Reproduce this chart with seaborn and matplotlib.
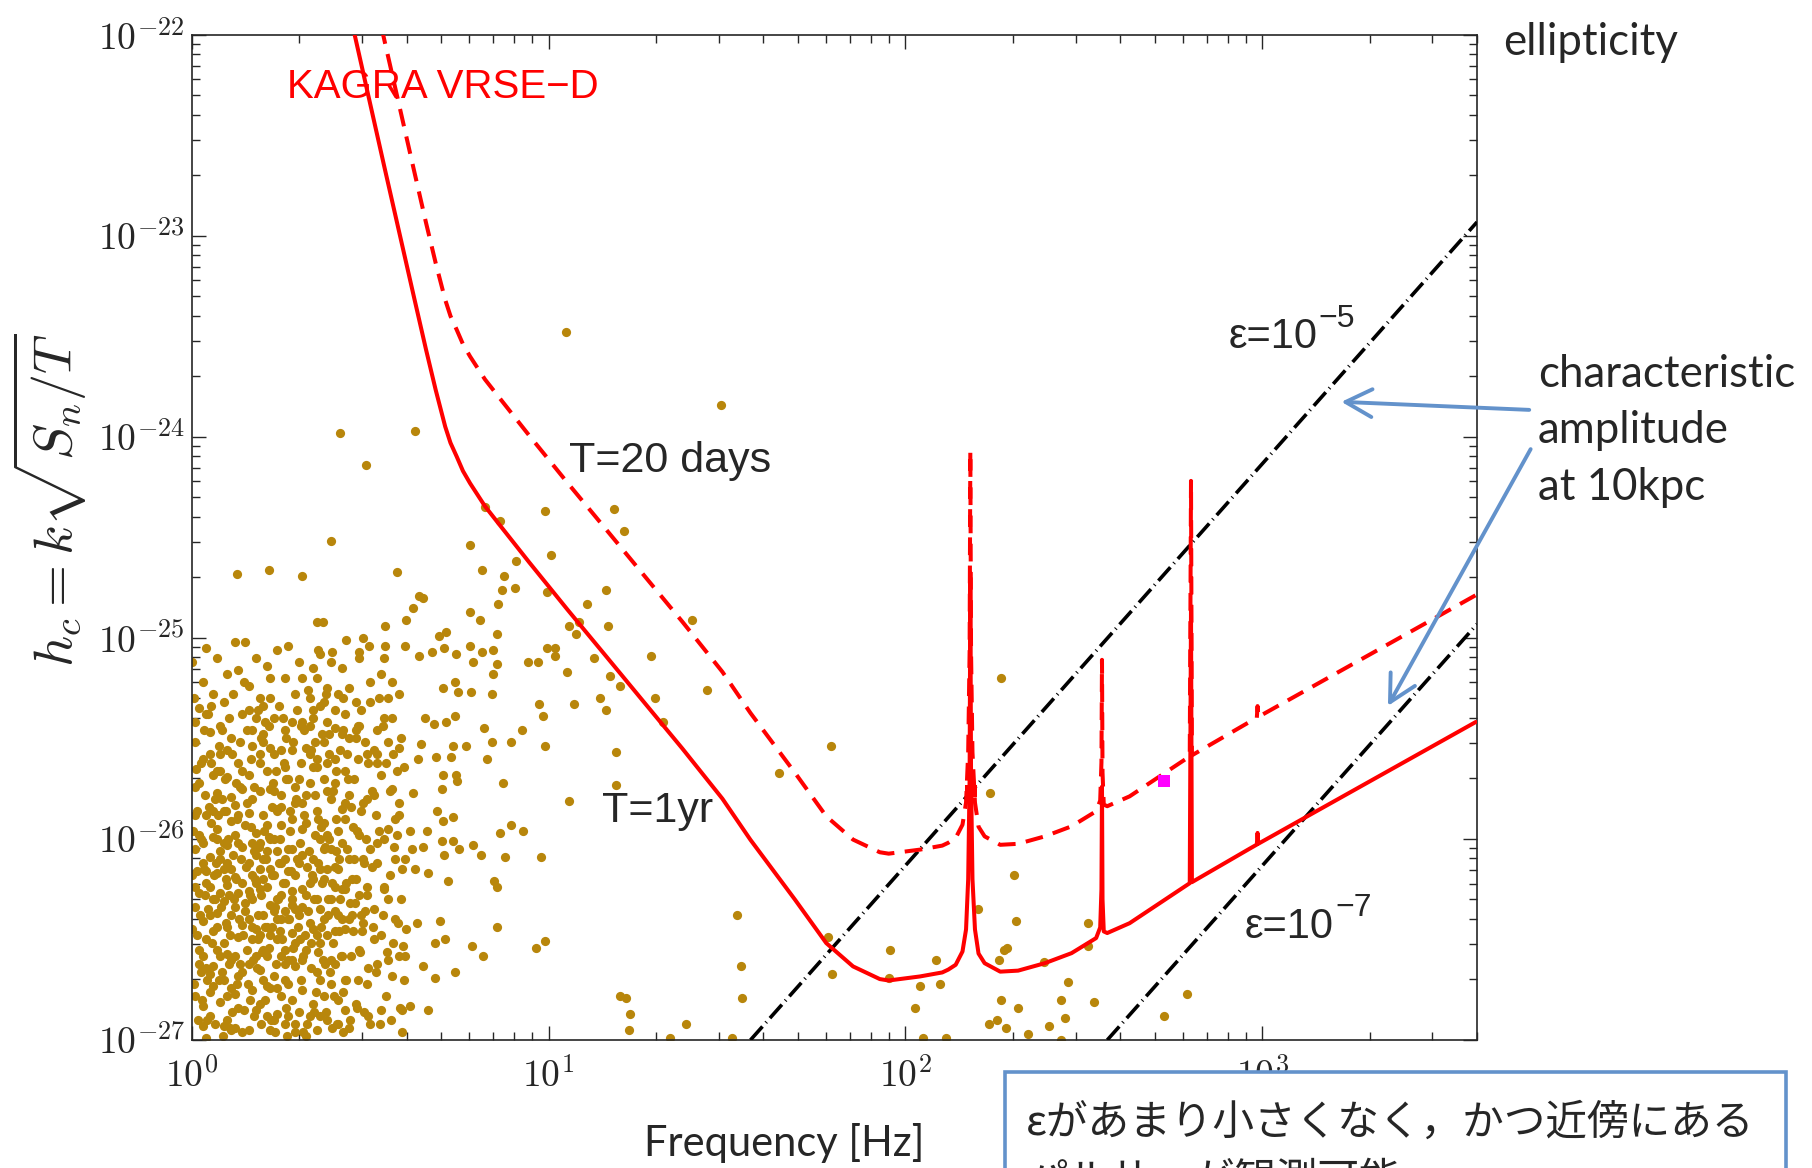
import numpy as np
import pandas as pd
import matplotlib
matplotlib.use('Agg')
import matplotlib.pyplot as plt
from matplotlib.ticker import FuncFormatter, LogLocator, NullFormatter, FixedLocator
from matplotlib.patches import Rectangle, FancyArrowPatch
import seaborn as sns

# ---- data ----
# KAGRA VRSE-D sensitivity for T=1yr, as log10(f/Hz), log10(hc)
sens_logf = [0.4564, 0.5400, 0.6245, 0.6567, 0.6836, 0.6950, 0.7102, 0.7250, 0.7424, 0.7600,
             0.7799, 0.8216, 0.8636, 0.9460, 1.0532, 1.1605, 1.2675, 1.3747, 1.4872, 1.5656,
             1.6906, 1.7782, 1.8533, 1.9283, 1.9532, 2.0406, 2.1033, 2.1200, 2.1409, 2.1600,
             2.1700, 2.1760, 2.1800, 2.1820, 2.1840, 2.1880, 2.1950, 2.2050, 2.2221, 2.2658,
             2.3159, 2.3907, 2.4657, 2.5346, 2.5460, 2.5495, 2.5510, 2.5525, 2.5560, 2.5657,
             2.6284, 2.7970, 2.8005, 2.8030, 2.9633, 2.9850, 2.9870, 2.9890, 3.5990]
sens_logh = [-22.000, -22.660, -23.319, -23.568, -23.767, -23.845, -23.949, -24.030, -24.098, -24.170,
             -24.231, -24.345, -24.440, -24.625, -24.860, -25.090, -25.320, -25.550, -25.800, -26.004,
             -26.302, -26.518, -26.634, -26.697, -26.704, -26.684, -26.664, -26.650, -26.626, -26.560,
             -26.450, -26.200, -25.700, -24.700, -25.700, -26.200, -26.450, -26.570, -26.618, -26.660,
             -26.655, -26.618, -26.568, -26.493, -26.440, -26.250, -25.740, -26.300, -26.460, -26.468,
             -26.419, -26.220, -24.850, -26.215, -26.050, -26.028, -25.970, -26.024, -25.418]
T_year_days = 365.25
T_short_days = 20.0

# characteristic amplitude at 10kpc for two ellipticities (line end points)
eps5_freq = [36.8, 4000.0]
eps5_h = [1.0e-27, 1.17e-23]
eps7_freq = [368.0, 4000.0]
eps7_h = [1.0e-27, 1.17e-25]

x_ticks = [1, 10, 100, 1000]
y_ticks = [1e-27, 1e-26, 1e-25, 1e-24, 1e-23, 1e-22]

# known pulsars: (log10 f, log10 hc)
cloud_a = [(0.01,-26.05),(0.03,-26.41),(0.02,-25.72),(0.05,-26.88),(0.04,-26.22),(0.07,-25.95),(0.06,-26.63),(0.09,-26.31),(0.08,-25.58),(0.11,-26.74),
           (0.10,-26.12),(0.13,-26.49),(0.12,-25.83),(0.14,-26.96),(0.02,-26.55),(0.05,-25.47),(0.03,-26.93),(0.07,-26.17),(0.09,-26.70),(0.11,-25.91),
           (0.13,-26.27),(0.01,-26.34),(0.04,-25.88),(0.06,-26.46),(0.08,-26.81),(0.10,-25.69),(0.12,-26.58),(0.14,-26.04),(0.03,-26.12),(0.05,-26.67),
           (0.07,-25.77),(0.09,-26.02),(0.11,-26.38),(0.13,-25.62),(0.01,-26.78),(0.04,-26.50),(0.06,-25.99),(0.08,-26.27),(0.10,-26.90),(0.12,-26.19),
           (0.14,-25.75),(0.02,-26.27),(0.05,-26.09),(0.07,-26.55),(0.09,-25.86),(0.11,-26.60),(0.13,-26.84),(0.15,-26.36),(0.03,-25.60),(0.06,-26.73),
           (0.08,-26.10),(0.10,-26.44),(0.12,-25.98),(0.14,-26.66),(0.01,-25.88),(0.04,-26.99),(0.06,-26.30),(0.09,-26.52),(0.11,-26.15),(0.13,-26.02),
           (0.02,-26.62),(0.05,-26.38),(0.08,-25.66),(0.10,-26.23),(0.12,-26.77),(0.14,-26.43),(0.03,-26.83),(0.07,-26.37),(0.09,-26.93),(0.11,-25.79),
           (0.00,-26.45),(0.02,-25.98),(0.04,-26.16),(0.06,-25.86),(0.08,-26.58),(0.10,-26.03),(0.12,-26.34),(0.14,-26.22),(0.01,-25.52),(0.03,-26.02),
           (0.05,-26.76),(0.07,-26.00),(0.09,-26.15),(0.11,-26.95),(0.13,-26.68),(0.15,-25.93),(0.00,-26.18),(0.04,-26.64),(0.06,-25.68),(0.10,-26.57)]
cloud_b = [(0.16,-26.12),(0.18,-26.45),(0.17,-25.80),(0.20,-26.70),(0.19,-26.02),(0.22,-26.33),(0.21,-25.66),(0.24,-26.87),(0.23,-26.18),(0.26,-26.55),
           (0.25,-25.93),(0.28,-26.26),(0.27,-26.72),(0.29,-25.74),(0.16,-26.62),(0.18,-25.97),(0.20,-26.38),(0.22,-26.95),(0.24,-25.85),(0.26,-26.10),
           (0.28,-26.47),(0.17,-26.30),(0.19,-26.82),(0.21,-26.06),(0.23,-25.58),(0.25,-26.40),(0.27,-26.05),(0.29,-26.63),(0.16,-25.87),(0.18,-26.22),
           (0.20,-25.48),(0.22,-26.15),(0.24,-26.50),(0.26,-26.92),(0.28,-25.90),(0.17,-26.75),(0.19,-26.25),(0.21,-26.58),(0.23,-26.00),(0.25,-26.78),
           (0.27,-25.70),(0.29,-26.18),(0.16,-26.40),(0.18,-26.85),(0.20,-26.10),(0.22,-25.75),(0.24,-26.30),(0.26,-26.36),(0.28,-26.80),(0.17,-26.02),
           (0.19,-25.62),(0.21,-26.44),(0.23,-26.68),(0.25,-26.12),(0.27,-26.40),(0.29,-26.96),(0.16,-26.95),(0.18,-26.58),(0.20,-25.88),(0.22,-26.48),
           (0.24,-26.06),(0.26,-25.64),(0.28,-26.33),(0.17,-25.54),(0.19,-26.48),(0.21,-26.88),(0.23,-26.36),(0.25,-25.84),(0.27,-26.60),(0.29,-26.35),
           (0.16,-26.26),(0.18,-26.08),(0.20,-26.55),(0.22,-26.00),(0.24,-26.74),(0.26,-26.22),(0.28,-26.60),(0.17,-26.50),(0.19,-26.15),(0.21,-25.93),
           (0.23,-26.90),(0.25,-26.58),(0.27,-26.16),(0.29,-25.82),(0.18,-25.40),(0.22,-25.55),(0.26,-25.46),(0.20,-26.20),(0.24,-26.40),(0.28,-26.05),
           (0.16,-25.68),(0.21,-26.73),(0.25,-26.28),(0.27,-26.88),(0.19,-26.65),(0.23,-25.76),(0.29,-26.52),(0.17,-26.18),(0.26,-26.70),(0.20,-25.34)]
cloud_c = [(0.31,-26.08),(0.33,-26.42),(0.32,-25.78),(0.35,-26.66),(0.34,-26.20),(0.37,-25.92),(0.36,-26.52),(0.39,-26.30),(0.38,-25.62),(0.41,-26.80),
           (0.40,-26.14),(0.43,-26.45),(0.42,-25.85),(0.44,-26.94),(0.31,-26.60),(0.33,-25.58),(0.35,-26.95),(0.37,-26.20),(0.39,-26.72),(0.41,-25.96),
           (0.43,-26.25),(0.30,-26.38),(0.32,-25.92),(0.34,-26.82),(0.36,-26.00),(0.38,-26.48),(0.40,-25.72),(0.42,-26.58),(0.44,-26.10),(0.31,-25.42),
           (0.33,-26.22),(0.35,-25.86),(0.37,-26.78),(0.39,-26.05),(0.41,-26.38),(0.43,-25.66),(0.30,-26.86),(0.32,-26.28),(0.34,-25.64),(0.36,-26.35),
           (0.38,-26.90),(0.40,-26.24),(0.42,-26.02),(0.44,-25.78),(0.31,-26.25),(0.33,-26.88),(0.35,-26.30),(0.37,-25.52),(0.39,-26.60),(0.41,-26.15),
           (0.43,-26.70),(0.30,-25.70),(0.32,-26.55),(0.34,-26.10),(0.36,-25.34),(0.38,-26.15),(0.40,-26.62),(0.42,-25.48),(0.44,-26.40),(0.33,-25.30),
           (0.35,-26.48),(0.37,-26.05),(0.39,-25.80),(0.41,-26.92),(0.31,-26.75),(0.34,-26.45),(0.36,-26.70),(0.38,-25.98),(0.40,-26.46),(0.42,-26.25),
           (0.30,-26.12),(0.32,-26.98),(0.35,-25.20),(0.38,-25.42),(0.43,-26.85),(0.34,-25.15),(0.37,-26.40),(0.40,-25.60),(0.31,-25.95),(0.36,-26.15)]
cloud_d = [(0.46,-26.20),(0.48,-25.82),(0.47,-26.55),(0.50,-26.05),(0.49,-26.72),(0.52,-25.62),(0.51,-26.35),(0.54,-26.00),(0.53,-26.85),(0.56,-25.75),
           (0.55,-26.30),(0.58,-26.58),(0.57,-25.90),(0.59,-26.15),(0.46,-25.50),(0.48,-26.42),(0.50,-26.92),(0.52,-26.12),(0.54,-25.40),(0.56,-26.68),
           (0.58,-25.55),(0.47,-25.98),(0.49,-26.28),(0.51,-25.78),(0.53,-26.48),(0.55,-25.95),(0.57,-26.40),(0.59,-26.85),(0.46,-26.82),(0.50,-25.32),
           (0.52,-26.62),(0.54,-26.25),(0.56,-25.22),(0.48,-26.10),(0.53,-25.68),(0.57,-26.10),(0.45,-26.38),(0.51,-26.50),(0.55,-26.60),(0.58,-25.88),
           (0.49,-25.58),(0.53,-25.18),(0.47,-25.10),(0.60,-26.45),(0.44,-25.25)]
cloud_e = [(0.015,-26.48),(0.035,-26.15),(0.055,-25.92),(0.075,-26.70),(0.095,-26.42),(0.115,-26.08),(0.135,-25.74),(0.155,-26.55),(0.175,-26.88),(0.195,-26.28),
           (0.215,-25.99),(0.235,-26.62),(0.245,-26.12),(0.005,-26.72),(0.025,-26.00),(0.045,-26.35),(0.065,-26.92),(0.085,-25.80),(0.105,-26.62),(0.125,-26.20),
           (0.145,-26.85),(0.165,-25.94),(0.185,-26.38),(0.205,-26.80),(0.225,-26.44),(0.012,-25.65),(0.032,-26.58),(0.052,-26.24),(0.072,-26.44),(0.092,-25.70),
           (0.112,-26.86),(0.132,-26.40),(0.152,-26.14),(0.172,-26.60),(0.192,-25.76),(0.212,-26.24),(0.232,-26.96),(0.248,-26.46),(0.018,-26.90),(0.038,-25.78),
           (0.058,-26.52),(0.078,-26.06),(0.098,-26.78),(0.118,-26.30),(0.138,-26.10),(0.158,-26.72),(0.178,-26.20),(0.198,-26.56),(0.218,-26.74),(0.238,-25.86),
           (0.008,-26.24),(0.028,-26.80),(0.048,-25.84),(0.068,-26.12),(0.088,-26.98),(0.108,-26.48),(0.128,-25.90),(0.148,-26.32),(0.168,-26.44),(0.188,-26.04),
           (0.208,-26.10),(0.228,-25.72),(0.242,-26.30),(0.022,-26.38),(0.042,-26.70),(0.062,-26.18),(0.082,-26.34),(0.102,-26.00),(0.122,-26.94),(0.142,-25.66),
           (0.162,-26.28),(0.182,-26.64),(0.202,-25.96),(0.222,-26.90),(0.002,-25.96),(0.014,-26.16),(0.044,-26.90),(0.074,-25.88),(0.104,-26.28),(0.134,-26.62),
           (0.164,-26.80),(0.194,-26.92),(0.224,-26.18),(0.054,-25.62),(0.084,-26.66),(0.114,-25.58),(0.144,-26.48),(0.174,-26.06),(0.204,-26.44),(0.234,-26.34),
           (0.026,-26.66),(0.066,-26.30),(0.096,-26.20),(0.126,-26.72),(0.156,-25.82),(0.186,-26.50),(0.216,-26.54),(0.246,-26.00),(0.036,-26.28),(0.106,-26.94)]
cloud_f = [(0.255,-26.22),(0.265,-26.84),(0.275,-25.96),(0.285,-26.54),(0.295,-26.10),(0.305,-26.70),(0.315,-25.88),(0.325,-26.36),(0.335,-26.64),(0.345,-25.98),
           (0.355,-26.56),(0.365,-26.22),(0.375,-26.86),(0.385,-26.00),(0.395,-26.52),(0.405,-25.90),(0.415,-26.30),(0.425,-26.76),(0.435,-26.05),(0.445,-26.58),
           (0.455,-26.10),(0.465,-26.70),(0.475,-25.86),(0.485,-26.36),(0.495,-26.64),(0.258,-25.62),(0.272,-26.40),(0.288,-26.92),(0.302,-26.02),(0.318,-26.48),
           (0.332,-25.72),(0.348,-26.76),(0.362,-26.44),(0.378,-25.76),(0.392,-26.22),(0.408,-26.92),(0.422,-26.40),(0.438,-25.70),(0.452,-26.46),(0.468,-26.28),
           (0.482,-26.86),(0.262,-26.62),(0.278,-26.16),(0.292,-25.80),(0.308,-26.34),(0.322,-26.92),(0.338,-26.18),(0.352,-25.64),(0.368,-26.60),(0.382,-26.30),
           (0.398,-26.78),(0.412,-26.10),(0.428,-25.82),(0.442,-26.90),(0.458,-26.32),(0.472,-26.56),(0.488,-26.00),(0.268,-26.98),(0.298,-26.44),(0.328,-26.06),
           (0.358,-26.88),(0.388,-26.66),(0.418,-26.58),(0.448,-26.20),(0.478,-26.46),(0.252,-26.50),(0.282,-26.30),(0.312,-26.58),(0.342,-26.30),(0.372,-26.04),
           (0.402,-26.36),(0.432,-26.22),(0.462,-25.96),(0.492,-26.24),(0.265,-25.50),(0.305,-25.44),(0.345,-25.52),(0.385,-25.58),(0.425,-25.46),(0.465,-25.60)]
cloud_g = [(0.005,-25.30),(0.025,-25.62),(0.045,-25.38),(0.065,-25.80),(0.085,-25.46),(0.105,-25.40),(0.125,-25.72),(0.145,-25.22),(0.165,-25.60),(0.185,-25.36),
           (0.205,-25.42),(0.225,-25.84),(0.245,-25.34),(0.265,-25.70),(0.285,-25.52),(0.305,-25.62),(0.325,-25.26),(0.345,-25.78),(0.365,-25.48),(0.385,-25.48),
           (0.405,-25.66),(0.425,-25.30),(0.445,-25.84),(0.465,-25.44),(0.485,-25.52),(0.505,-25.76),(0.525,-25.30),(0.545,-25.62),(0.565,-25.58),(0.585,-25.50),
           (0.015,-25.86),(0.035,-25.46),(0.055,-25.34),(0.075,-25.54),(0.095,-25.86),(0.115,-25.28),(0.135,-25.52),(0.155,-25.46),(0.175,-25.74),(0.195,-25.50),
           (0.215,-25.44),(0.235,-25.66),(0.255,-25.40),(0.275,-25.86),(0.295,-25.36),(0.315,-25.46),(0.335,-25.56),(0.355,-25.90),(0.375,-25.28),(0.395,-25.76),
           (0.415,-25.56),(0.435,-25.58),(0.455,-25.70),(0.475,-25.36),(0.495,-25.62),(0.515,-25.88),(0.535,-25.44),(0.555,-25.76),(0.575,-25.66),(0.595,-25.64),
           (0.010,-25.74),(0.040,-25.38),(0.070,-25.66),(0.100,-25.56),(0.130,-25.88),(0.160,-25.36),(0.190,-25.58),(0.220,-25.20),(0.250,-25.78),(0.280,-25.56),
           (0.310,-25.82),(0.340,-25.40),(0.370,-25.70),(0.400,-25.36),(0.430,-25.90),(0.460,-25.46),(0.490,-25.80),(0.520,-25.58),(0.550,-25.52),(0.580,-25.82)]
cloud_h = [(0.505,-26.14),(0.515,-26.66),(0.525,-25.96),(0.535,-26.38),(0.545,-26.78),(0.555,-26.18),(0.565,-26.52),(0.575,-25.98),(0.585,-26.30),(0.595,-26.70),
           (0.508,-26.44),(0.518,-26.02),(0.528,-26.92),(0.538,-26.24),(0.548,-26.56),(0.558,-26.90),(0.568,-26.04),(0.578,-26.42),(0.588,-26.96),(0.598,-26.10),
           (0.303,-26.50),(0.323,-26.14),(0.343,-26.86),(0.363,-25.94),(0.383,-26.38),(0.403,-26.06),(0.423,-26.96),(0.443,-26.32),(0.463,-26.84),(0.483,-26.12),
           (0.313,-26.96),(0.333,-26.52),(0.353,-26.12),(0.373,-26.62),(0.393,-26.94),(0.413,-26.46),(0.433,-26.70),(0.453,-25.94),(0.473,-26.38),(0.493,-26.88)]
cloud_top = [(0.00,-25.12),(0.02,-25.35),(0.04,-25.05),(0.06,-25.28),(0.08,-25.44),(0.10,-25.18),(0.12,-25.02),(0.14,-25.38),(0.16,-25.24),(0.18,-25.10),
             (0.20,-25.52),(0.22,-25.30),(0.24,-25.06),(0.26,-25.20),(0.28,-25.42),(0.30,-25.12),(0.32,-25.55),(0.34,-25.36),(0.36,-25.08),(0.38,-25.25),
             (0.40,-25.45),(0.42,-25.15),(0.44,-25.50),(0.46,-25.32),(0.48,-25.00),(0.50,-25.22),(0.52,-25.46),(0.54,-25.10),(0.56,-25.40),(0.58,-25.28),
             (0.01,-25.42),(0.03,-25.22),(0.05,-25.58),(0.07,-25.10),(0.09,-25.32),(0.11,-25.50),(0.13,-25.16),(0.15,-25.02),(0.17,-25.46),(0.19,-25.30),
             (0.21,-25.14),(0.23,-25.40),(0.25,-25.56),(0.27,-25.04),(0.29,-25.28),(0.31,-25.20),(0.33,-25.44),(0.35,-25.60),(0.37,-25.32),(0.39,-25.12),
             (0.41,-25.28),(0.43,-25.38),(0.47,-25.44),(0.51,-25.56),(0.55,-25.30)]
cloud_edge = [(0.611,-25.96),(0.616,-26.05),(0.648,-26.04),(0.660,-25.96),(0.686,-25.86),(0.704,-25.91),(0.732,-25.89),(0.702,-26.01),
              (0.732,-26.01),(0.749,-26.05),(0.706,-26.08),(0.788,-26.03),(0.810,-26.08),(0.877,-26.09),(0.863,-25.97),(0.896,-25.93),
              (0.928,-25.96),(0.980,-26.09),(0.625,-26.15),(0.662,-26.17),(0.719,-26.21),(0.847,-26.21),(0.854,-26.24),(0.630,-26.42),
              (0.695,-26.41),(0.709,-26.50),(0.681,-26.52),(0.786,-26.53),(0.815,-26.58),(0.856,-26.44),(0.966,-26.54),(0.989,-26.51),
              (0.648,-26.63),(0.737,-26.66),(0.681,-26.69),(0.662,-26.85),(0.611,-26.83),(0.583,-26.84),(0.592,-26.53),(0.597,-26.58)]
field_upper = [(1.048,-23.48),(1.482,-23.84),(0.415,-23.98),(0.625,-23.97),(0.488,-24.14),(0.391,-24.52),(0.822,-24.35),(0.863,-24.42),
               (0.989,-24.37),(1.183,-24.36),(1.210,-24.47),(0.779,-24.54),(1.006,-24.59),(0.909,-24.62),(0.813,-24.66),(0.574,-24.67),
               (0.308,-24.69),(0.874,-24.69),(0.869,-24.76),(0.906,-24.75),(0.996,-24.77),(1.161,-24.76),(1.107,-24.83),(0.858,-24.83),
               (0.636,-24.79),(0.648,-24.80),(0.620,-24.85),(0.779,-24.87),(0.807,-24.91),(0.600,-24.91),(0.541,-24.94),(0.351,-24.92),
               (0.368,-24.92),(1.403,-24.91),(1.057,-24.94),(1.085,-24.92),(1.076,-24.98),(1.166,-24.94),(0.855,-24.98),(0.712,-24.97),
               (0.692,-24.99),(0.432,-25.01),(0.541,-25.04),(0.597,-25.04),(0.497,-25.04),(0.469,-25.07),(0.354,-25.06),(0.393,-25.07),
               (0.779,-25.04),(0.813,-25.07),(0.844,-25.06),(0.673,-25.07),(0.706,-25.05),(0.740,-25.08),(0.636,-25.09),(0.995,-25.05),
               (1.017,-25.05),(1.017,-25.09),(1.127,-25.10),(1.286,-25.09),(0.941,-25.12),(0.969,-25.12),(0.788,-25.12),(0.855,-25.13),
               (0.844,-25.18),(1.051,-25.17),(1.171,-25.19),(1.199,-25.24),(1.297,-25.30),(1.445,-25.26),(1.143,-25.30),(1.162,-25.36),
               (1.071,-25.33),(0.973,-25.33),(0.984,-25.39),(0.841,-25.28),(0.782,-25.27),(0.746,-25.27),(0.737,-25.22),(0.703,-25.25),
               (1.320,-25.42),(1.792,-25.54),(1.645,-25.67),(1.188,-25.57),(0.991,-25.54),(0.925,-25.46),(0.895,-25.52),(0.818,-25.45),
               (0.840,-25.52),(0.768,-25.54),(0.731,-25.54),(0.827,-25.60),(0.871,-25.72),(1.188,-25.73),(0.737,-25.39),(0.654,-25.40),
               (0.679,-25.43),(0.712,-25.42),(0.642,-25.53),(0.633,-25.60),(0.684,-25.59),(0.726,-25.59),(0.740,-25.68),(0.743,-25.71),
               (0.703,-25.68),(0.701,-25.75),(0.620,-25.77),(0.127,-24.68),(0.216,-24.66)]
field_lower = [(1.056,-25.81),(1.527,-26.38),(1.782,-26.49),(1.793,-26.67),(1.540,-26.63),(1.543,-26.79),(1.199,-26.78),(1.216,-26.79),
               (1.227,-26.87),(1.224,-26.95),(1.386,-26.92),(1.341,-26.99),(1.515,-26.99),(1.956,-26.55),(1.953,-26.69),(2.087,-26.60),
               (2.042,-26.73),(2.097,-26.72),(2.028,-26.84),(2.050,-26.99),(2.115,-26.99),(2.238,-25.77),(2.305,-26.18),(2.204,-26.35),
               (2.311,-26.41),(2.277,-26.55),(2.286,-26.54),(2.263,-26.60),(2.389,-26.61),(2.513,-26.42),(2.513,-26.53),(2.457,-26.71),
               (2.269,-26.80),(2.437,-26.80),(2.530,-26.81),(2.316,-26.84),(2.448,-26.89),(2.258,-26.90),(2.235,-26.92),(2.282,-26.94),
               (2.403,-26.93),(2.344,-26.97),(2.437,-27.00),(2.789,-26.77),(2.725,-26.88),(2.268,-25.20)]
crab_like = (531.0, 1.95e-26)      # magenta square
peak_mark = (152.8, 1.74e-26)      # red square on the 150 Hz resonance

# ---- style ----
sns.set_style('ticks')
plt.rcParams['font.family'] = ['Liberation Sans', 'DejaVu Sans']
plt.rcParams['mathtext.fontset'] = 'cm'
gold = '#B8860B'
blue = '#6392CB'
W, H = 1812, 1168


def fx(px):
    return px / W


def fy(py):
    return 1 - py / H


fig = plt.figure(figsize=(W / 100, H / 100), dpi=100)
ax = fig.add_axes([fx(191.8), fy(1040), fx(1477) - fx(191.8), fy(34.7) - fy(1040)])
ax.set_xscale('log')
ax.set_yscale('log')

# pulsars
pts = (cloud_a + cloud_b + cloud_c + cloud_d + cloud_e + cloud_f + cloud_g + cloud_h
       + cloud_top + cloud_edge + field_upper + field_lower)
df = pd.DataFrame(pts, columns=['logf', 'logh'])
df['f'] = 10 ** df['logf']
df['h'] = 10 ** df['logh']
sns.scatterplot(data=df, x='f', y='h', color=gold, s=44, linewidth=0, ax=ax, zorder=2)

# ellipticity lines
for fr, hh in [(eps5_freq, eps5_h), (eps7_freq, eps7_h)]:
    ln, = ax.plot(fr, hh, color='black', lw=2.6, zorder=3)
    ln.set_dashes([5.0, 1.4, 0.3, 1.4])
    ln.set_dash_capstyle('butt')

# sensitivity curves
sens = pd.DataFrame({'f': 10 ** np.array(sens_logf), 'h_1yr': 10 ** np.array(sens_logh)})
sens['h_20d'] = sens['h_1yr'] * np.sqrt(T_year_days / T_short_days)
sns.lineplot(data=sens, x='f', y='h_1yr', color='red', lw=2.9, estimator=None, sort=False, ax=ax, zorder=4)
sns.lineplot(data=sens, x='f', y='h_20d', color='red', lw=2.9, estimator=None, sort=False, ax=ax, zorder=4)
ax.lines[-1].set_dashes([4.4, 2.6])
ax.lines[-1].set_dash_capstyle('butt')

ax.plot([peak_mark[0]], [peak_mark[1]], 's', color='red', ms=8, mew=0, zorder=5)
ax.plot([crab_like[0]], [crab_like[1]], 's', color='#FF00FF', ms=8.5, mew=0, zorder=5)

# axes formatting
ax.set_xlim(1, 4000)
ax.set_ylim(1e-27, 1e-22)
ax.set_xlabel('')
ax.set_ylabel('')
fmt = FuncFormatter(lambda v, p: r'$10^{%d}$' % int(round(np.log10(v))))
ax.xaxis.set_major_locator(FixedLocator(x_ticks))
ax.yaxis.set_major_locator(FixedLocator(y_ticks))
for axis in (ax.xaxis, ax.yaxis):
    axis.set_minor_locator(LogLocator(base=10, subs=np.arange(2, 10), numticks=20))
    axis.set_major_formatter(fmt)
    axis.set_minor_formatter(NullFormatter())
ax.tick_params(which='both', direction='in', top=True, right=True, width=1.0, labelsize=27)
ax.tick_params(which='major', length=9.9)
ax.tick_params(which='minor', length=5.5)
ax.tick_params(axis='x', pad=13)
ax.tick_params(axis='y', pad=5)
for sp in ax.spines.values():
    sp.set_linewidth(1.2)
    sp.set_visible(True)

# labels inside the plot
ax.text(1.844, 4.83e-23, 'KAGRA VRSE\u2212D', color='red', fontsize=29, va='baseline')
ax.text(11.44, 6.7e-25, 'T=20 days', fontsize=31, va='baseline')
ax.text(14.15, 1.22e-26, 'T=1yr', fontsize=31, va='baseline')
t5 = ax.text(803, 2.76e-24, '\u03b5=10', fontsize=30, va='baseline')
ax.annotate('\u22125', xy=(1, 0), xycoords=t5, xytext=(1, 22), textcoords='offset points',
            fontsize=23, va='baseline', ha='left')
t7 = ax.text(894, 3.23e-27, '\u03b5=10', fontsize=30, va='baseline')
ax.annotate('\u22127', xy=(1, 0), xycoords=t7, xytext=(1, 22), textcoords='offset points',
            fontsize=23, va='baseline', ha='left')

# axis titles (slide text)
fig.text(fx(50), fy(500), r'$h_c = k\sqrt{S_n/T}$', rotation=90, fontsize=39, ha='center', va='center')
fig.text(fx(644), fy(1156), 'Frequency [Hz]', fontsize=30, family=['Lato', 'DejaVu Sans'], va='baseline')

# right-hand slide annotations
lato = ['Lato', 'DejaVu Sans']
fig.text(fx(1503), fy(55), 'ellipticity', fontsize=31.5, family=lato, va='baseline')
for i, s in enumerate(['characteristic', 'amplitude', 'at 10kpc']):
    fig.text(fx(1538), fy(386.7 + 56.7 * i), s, fontsize=31.5, family=lato, va='baseline')
for start, tip in [((1532, 410), (1338.6, 401.7)), ((1532, 446.7), (1386.6, 708.3))]:
    arr = FancyArrowPatch((fx(start[0]), fy(start[1])), (fx(tip[0]), fy(tip[1])),
                          transform=fig.transFigure, arrowstyle='->,head_length=1.9,head_width=1.0',
                          mutation_scale=10, color=blue, lw=2.8, zorder=6)
    fig.add_artist(arr)

# note box at the bottom
box = Rectangle((fx(1005), fy(1230)), fx(1786) - fx(1005), fy(1072) - fy(1230),
                transform=fig.transFigure, facecolor='white', edgecolor=blue, lw=2.6, zorder=5)
fig.add_artist(box)
jp = ['Noto Sans CJK JP', 'DejaVu Sans']
fig.text(fx(1026), fy(1135), '\u03b5があまり小さくなく，かつ近傍にある', fontsize=30, family=jp,
         va='baseline', zorder=6)
fig.text(fx(1026), fy(1192), 'パルサーが観測可能', fontsize=30, family=jp, va='baseline', zorder=6)

fig.savefig('out.png', dpi=100)
